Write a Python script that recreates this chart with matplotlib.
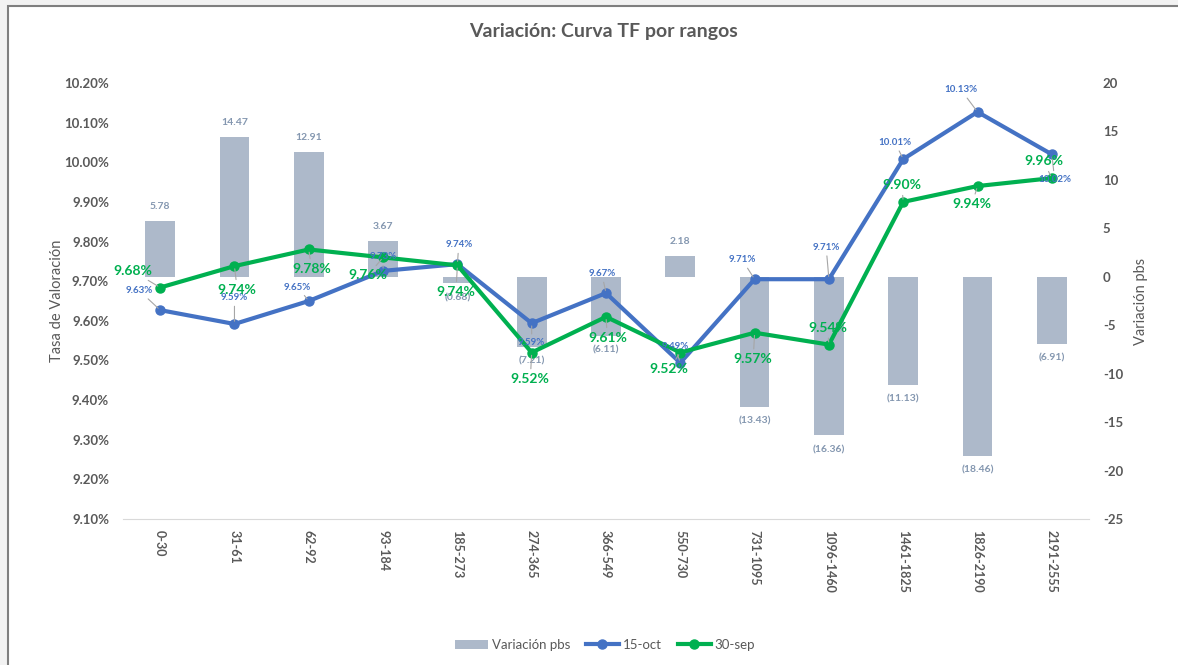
import matplotlib
matplotlib.use("Agg")
from matplotlib import pyplot as plt
from matplotlib.patches import Rectangle
from matplotlib.ticker import FuncFormatter, MultipleLocator
import numpy as np

plt.rcParams['font.family'] = ['Lato', 'DejaVu Sans']
plt.rcParams['axes.unicode_minus'] = False

rangos = ['0-30', '31-61', '62-92', '93-184', '185-273', '274-365', '366-549',
          '550-730', '731-1095', '1096-1460', '1461-1825', '1826-2190', '2191-2555']
variacion_pbs = [5.78, 14.47, 12.91, 3.67, -0.68, -7.21, -6.11, 2.18,
                 -13.43, -16.36, -11.13, -18.46, -6.91]
tasa_15oct = [9.627, 9.592, 9.650, 9.726, 9.743, 9.594, 9.670, 9.494,
              9.705, 9.705, 10.008, 10.127, 10.020]
tasa_30sep = [9.684, 9.738, 9.780, 9.760, 9.740, 9.520, 9.610, 9.520,
              9.570, 9.540, 9.900, 9.940, 9.960]

# label offsets in points (dx, dy) -- moved by hand like in the excel sheet
off_15oct = [(-15, 14), (0, 19), (-8, 10), (0, 10), (1, 14), (0, -14), (-3, 14),
             (-4, 12), (-9, 14), (-2, 23), (-6, 12), (-12, 16), (2, -18)]
off_30sep = [(-20, 12), (2, -17), (2, -14), (-11, -13), (-1, -19), (-1, -19),
             (1, -15), (-8, -12), (-1, -19), (-1, 12), (-1, 12), (-4, -13), (-6, 12)]

blue = '#4472C4'
green = '#00B050'
bar_col = '#ADB9CA'
bar_txt = '#8497B0'
gray = '#595959'

fig = plt.figure(figsize=(11.78, 6.65), dpi=100)
fig.patch.set_facecolor('#f2f2f2')
fig.patches.append(Rectangle((8 / 1178, -0.01), 1.0, 1 - 6 / 665 + 0.01,
                             transform=fig.transFigure, facecolor='white',
                             edgecolor='#7f7f7f', linewidth=1.5, zorder=-10))

ax = fig.add_axes([123 / 1178, 1 - 519 / 665, 966 / 1178, 436 / 665])
ax.set_facecolor('none')
ax2 = ax.twinx()
x = np.arange(len(rangos))

# bars on the right axis
bars = ax.bar(x, variacion_pbs, width=0.4, color=bar_col, label='Variación pbs', zorder=1)
ax.set_ylim(-25, 20)
ax.yaxis.set_major_locator(MultipleLocator(5))
ax.yaxis.tick_right()
ax.yaxis.set_label_position('right')
ax.set_ylabel('Variación pbs', color=gray, fontsize=10.5, labelpad=8)
for xi, v in zip(x, variacion_pbs):
    txt = f'{v:.2f}' if v >= 0 else f'({abs(v):.2f})'
    ax.annotate(txt, (xi, v), xytext=(0, 7 if v >= 0 else -7), textcoords='offset points',
                ha='center', va='bottom' if v >= 0 else 'top', fontsize=7.5,
                fontweight='bold', color=bar_txt, zorder=2)

ax2.set_ylim(9.10, 10.20)
ax2.yaxis.set_major_locator(MultipleLocator(0.1))
ax2.yaxis.tick_left()
ax2.yaxis.set_label_position('left')
ax2.yaxis.set_major_formatter(FuncFormatter(lambda v, p: f'{v:.2f}%'))
ax2.set_ylabel('Tasa de Valoración', color=gray, fontsize=10.5, labelpad=0)

l1, = ax2.plot(x, tasa_15oct, color=blue, lw=3, marker='o', ms=6.5, label='15-oct', zorder=3)
l2, = ax2.plot(x, tasa_30sep, color=green, lw=3, marker='o', ms=6.5, label='30-sep', zorder=3)

for xi, v, o in zip(x, tasa_15oct, off_15oct):
    ax2.annotate(f'{v:.2f}%', (xi, v), xytext=o, textcoords='offset points',
                 ha='center', va='center', fontsize=7, fontweight='bold', color=blue,
                 arrowprops=dict(arrowstyle='-', color='#a6a6a6', lw=0.8, shrinkA=1, shrinkB=2),
                 zorder=4)
for xi, v, o in zip(x, tasa_30sep, off_30sep):
    ax2.annotate(f'{v:.2f}%', (xi, v), xytext=o, textcoords='offset points',
                 ha='center', va='center', fontsize=10, fontweight='bold', color=green,
                 arrowprops=dict(arrowstyle='-', color='#a6a6a6', lw=0.8, shrinkA=1, shrinkB=2),
                 zorder=4)

for a in (ax, ax2):
    for s in a.spines.values():
        s.set_visible(False)
    a.tick_params(axis='y', length=0, labelsize=9.5, labelcolor=gray, pad=10)
for t in ax.yaxis.get_ticklabels() + ax2.yaxis.get_ticklabels():
    t.set_fontweight('bold')
ax.spines['bottom'].set_visible(True)
ax.spines['bottom'].set_position(('data', -25))
ax.spines['bottom'].set_color('#d9d9d9')
ax.set_xlim(-0.5, len(rangos) - 0.5)
ax.set_xticks(x)
ax.set_xticklabels(rangos, rotation=270, fontsize=9, fontweight='bold', color=gray)
ax.tick_params(axis='x', length=0, pad=8)

fig.text(603 / 1178, 1 - 32 / 665, 'Variación: Curva TF por rangos', ha='center', va='center',
         fontsize=14, fontweight='bold', color=gray)

fig.legend(handles=[bars, l1, l2], loc='center', bbox_to_anchor=(605 / 1178, 1 - 645 / 665),
           ncol=3, frameon=False, fontsize=9.5, labelcolor=gray, handlelength=2.5,
           columnspacing=1.2, handletextpad=0.3)

fig.savefig('out.png', dpi=100, facecolor=fig.get_facecolor())
